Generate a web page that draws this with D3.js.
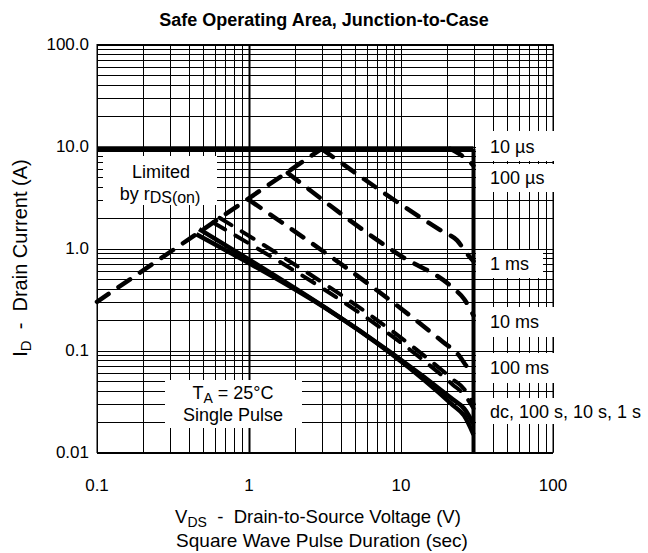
<!DOCTYPE html>
<html>
<head>
<meta charset="utf-8">
<script src="https://cdn.jsdelivr.net/npm/d3@7"></script>
<style>
  body { margin: 0; background: #fff; }
  text { font-family: "Liberation Sans", Arial, sans-serif; fill: #000; white-space: pre; }
</style>
</head>
<body>
<div id="chart"></div>
<script>
// values (V in volts, I in amps)
var xTicks = [0.1, 1, 10, 100];
var xTickLabels = ["0.1", "1", "10", "100"];
var yTicks = [0.01, 0.1, 1, 10, 100];
var yTickLabels = ["0.01", "0.1", "1.0", "10.0", "100.0"];

var rdsLimit = [[0.1, 0.3], [3, 9.5]];
var us10 = [[0.1, 9.5], [30, 9.5]];
var us100 = [[21, 9.5], [25, 8.2], [30, 6.5]];
var ms1 = [[3, 9.5], [19, 1.45], [23.4, 1.2], [27, 0.9], [30, 0.75]];
var ms10 = [[1.8, 5.5], [9.8, 0.86], [22, 0.41], [26, 0.32], [30, 0.22]];
var ms100 = [[1, 3.0], [18.9, 0.121], [24, 0.09], [27, 0.07], [30, 0.058]];
var s1 = [[0.64, 2.0], [22, 0.052], [26, 0.042], [30, 0.03]];
var s10 = [[0.58, 1.8], [22, 0.046], [26, 0.037], [30, 0.027]];
var s100 = [[0.47, 1.55], [22, 0.033], [26, 0.027], [30, 0.019]];
var dc = [[0.45, 1.38], [22, 0.029], [26, 0.023], [30, 0.015]];
var bvdss = [[30, 9.5], [30, 0.01]];

var curveLabels = ["10 \u00B5s", "100 \u00B5s", "1 ms", "10 ms", "100 ms", "dc, 100 s, 10 s, 1 s"];

var W = 648, H = 553;
var pl = 97, pr = 553, pt = 44.5, pb = 452.5;

var svg = d3.select("#chart").append("svg")
  .attr("width", W).attr("height", H);

var x = d3.scaleLog().domain([0.1, 100]).range([pl, pr]);
var y = d3.scaleLog().domain([0.01, 100]).range([pb, pt]);

// grid
var g = svg.append("g");
g.selectAll(".vx").data(x.ticks())
  .enter().append("line")
  .attr("x1", function (d) { return Math.round(x(d)) + 0.5; })
  .attr("x2", function (d) { return Math.round(x(d)) + 0.5; })
  .attr("y1", pt).attr("y2", pb)
  .attr("stroke", "#000")
  .attr("stroke-width", function (d) { return d == 1 ? 2 : 1; });

g.selectAll(".hy").data(y.ticks())
  .enter().append("line")
  .attr("y1", function (d) { return Math.round(y(d)) + 0.5; })
  .attr("y2", function (d) { return Math.round(y(d)) + 0.5; })
  .attr("x1", pl).attr("x2", pr)
  .attr("stroke", "#000").attr("stroke-width", 1);

g.append("rect")
  .attr("x", pl).attr("y", pt)
  .attr("width", pr - pl).attr("height", pb - pt)
  .attr("fill", "none").attr("stroke", "#000").attr("stroke-width", 1);

// white boxes behind the notes
function box(x0, y0, x1, y1) {
  svg.append("rect").attr("x", x0).attr("y", y0)
    .attr("width", x1 - x0).attr("height", y1 - y0).attr("fill", "#fff");
}
box(103, 156, 217, 205);
box(165, 380, 302, 428);

var line = d3.line()
  .x(function (d) { return x(d[0]); })
  .y(function (d) { return y(d[1]); })
  .curve(d3.curveMonotoneX);

function draw(data, w, dash) {
  svg.append("path")
    .attr("d", line(data))
    .attr("fill", "none")
    .attr("stroke", "#000")
    .attr("stroke-width", w)
    .attr("stroke-linecap", dash ? "round" : "butt")
    .attr("stroke-dasharray", dash ? "14 12" : null);
}

draw(bvdss, 4, false);

// right-hand label boxes
var labelBoxes = [[131, 161, 556], [164, 192, 556], [250, 278, 543], [307, 337, 556], [353, 383, 556], [398, 424, 648]];
labelBoxes.forEach(function (b) { box(476, b[0], b[2], b[1]); });

draw(us10, 5, false);
draw(rdsLimit, 4.5, true);
draw(us100, 4.5, true);
draw(ms1, 4.5, true);
draw(ms10, 4.5, true);
draw(ms100, 4.5, true);
draw(s1, 4, true);
draw(s10, 4, true);
draw(s100, 4.5, false);
draw(dc, 4.5, false);

// right-hand labels
var labelY = [147, 178, 264, 322, 368, 412];
svg.selectAll(".clab").data(curveLabels)
  .enter().append("text")
  .attr("x", 490)
  .attr("y", function (d, i) { return labelY[i]; })
  .attr("dy", "0.35em")
  .style("font-size", "18px")
  .text(function (d) { return d; });

// notes
svg.append("text").attr("x", 161).attr("y", 178)
  .attr("text-anchor", "middle").style("font-size", "18px").text("Limited");
var t2 = svg.append("text").attr("x", 160).attr("y", 200)
  .attr("text-anchor", "middle").style("font-size", "18px");
t2.append("tspan").text("by r");
t2.append("tspan").attr("dy", 3).style("font-size", "16px").text("DS(on)");

var t3 = svg.append("text").attr("x", 233).attr("y", 399)
  .attr("text-anchor", "middle").style("font-size", "18px");
t3.append("tspan").text("T");
t3.append("tspan").attr("dy", 4).style("font-size", "14px").text("A");
t3.append("tspan").attr("dy", -4).text(" = 25\u00B0C");
svg.append("text").attr("x", 233).attr("y", 421)
  .attr("text-anchor", "middle").style("font-size", "18px").text("Single Pulse");

// axes labels
svg.selectAll(".xt").data(xTicks)
  .enter().append("text")
  .attr("x", function (d) { return x(d); })
  .attr("y", 491)
  .attr("text-anchor", "middle")
  .style("font-size", "17px")
  .text(function (d, i) { return xTickLabels[i]; });

svg.selectAll(".yt").data(yTicks)
  .enter().append("text")
  .attr("x", 89)
  .attr("y", function (d) { return y(d); })
  .attr("dy", "0.35em")
  .attr("text-anchor", "end")
  .style("font-size", "17px")
  .text(function (d, i) { return yTickLabels[i]; });

svg.append("text").attr("x", 324).attr("y", 26)
  .attr("text-anchor", "middle")
  .style("font-size", "18px").style("font-weight", "bold")
  .text("Safe Operating Area, Junction-to-Case");

var xt = svg.append("text").attr("x", 318).attr("y", 523)
  .attr("text-anchor", "middle").style("font-size", "18.5px");
xt.append("tspan").text("V");
xt.append("tspan").attr("dy", 4).style("font-size", "14px").text("DS");
xt.append("tspan").attr("dy", -4).text("  -  Drain-to-Source Voltage (V)");

svg.append("text").attr("x", 322).attr("y", 547)
  .attr("text-anchor", "middle").style("font-size", "19px")
  .text("Square Wave Pulse Duration (sec)");

var yt = svg.append("text")
  .attr("transform", "translate(27,258) rotate(-90)")
  .attr("text-anchor", "middle").style("font-size", "20px");
yt.append("tspan").text("I");
yt.append("tspan").attr("dy", 4).style("font-size", "15px").text("D");
yt.append("tspan").attr("dy", -4).text("  -  Drain Current (A)");
</script>
</body>
</html>
